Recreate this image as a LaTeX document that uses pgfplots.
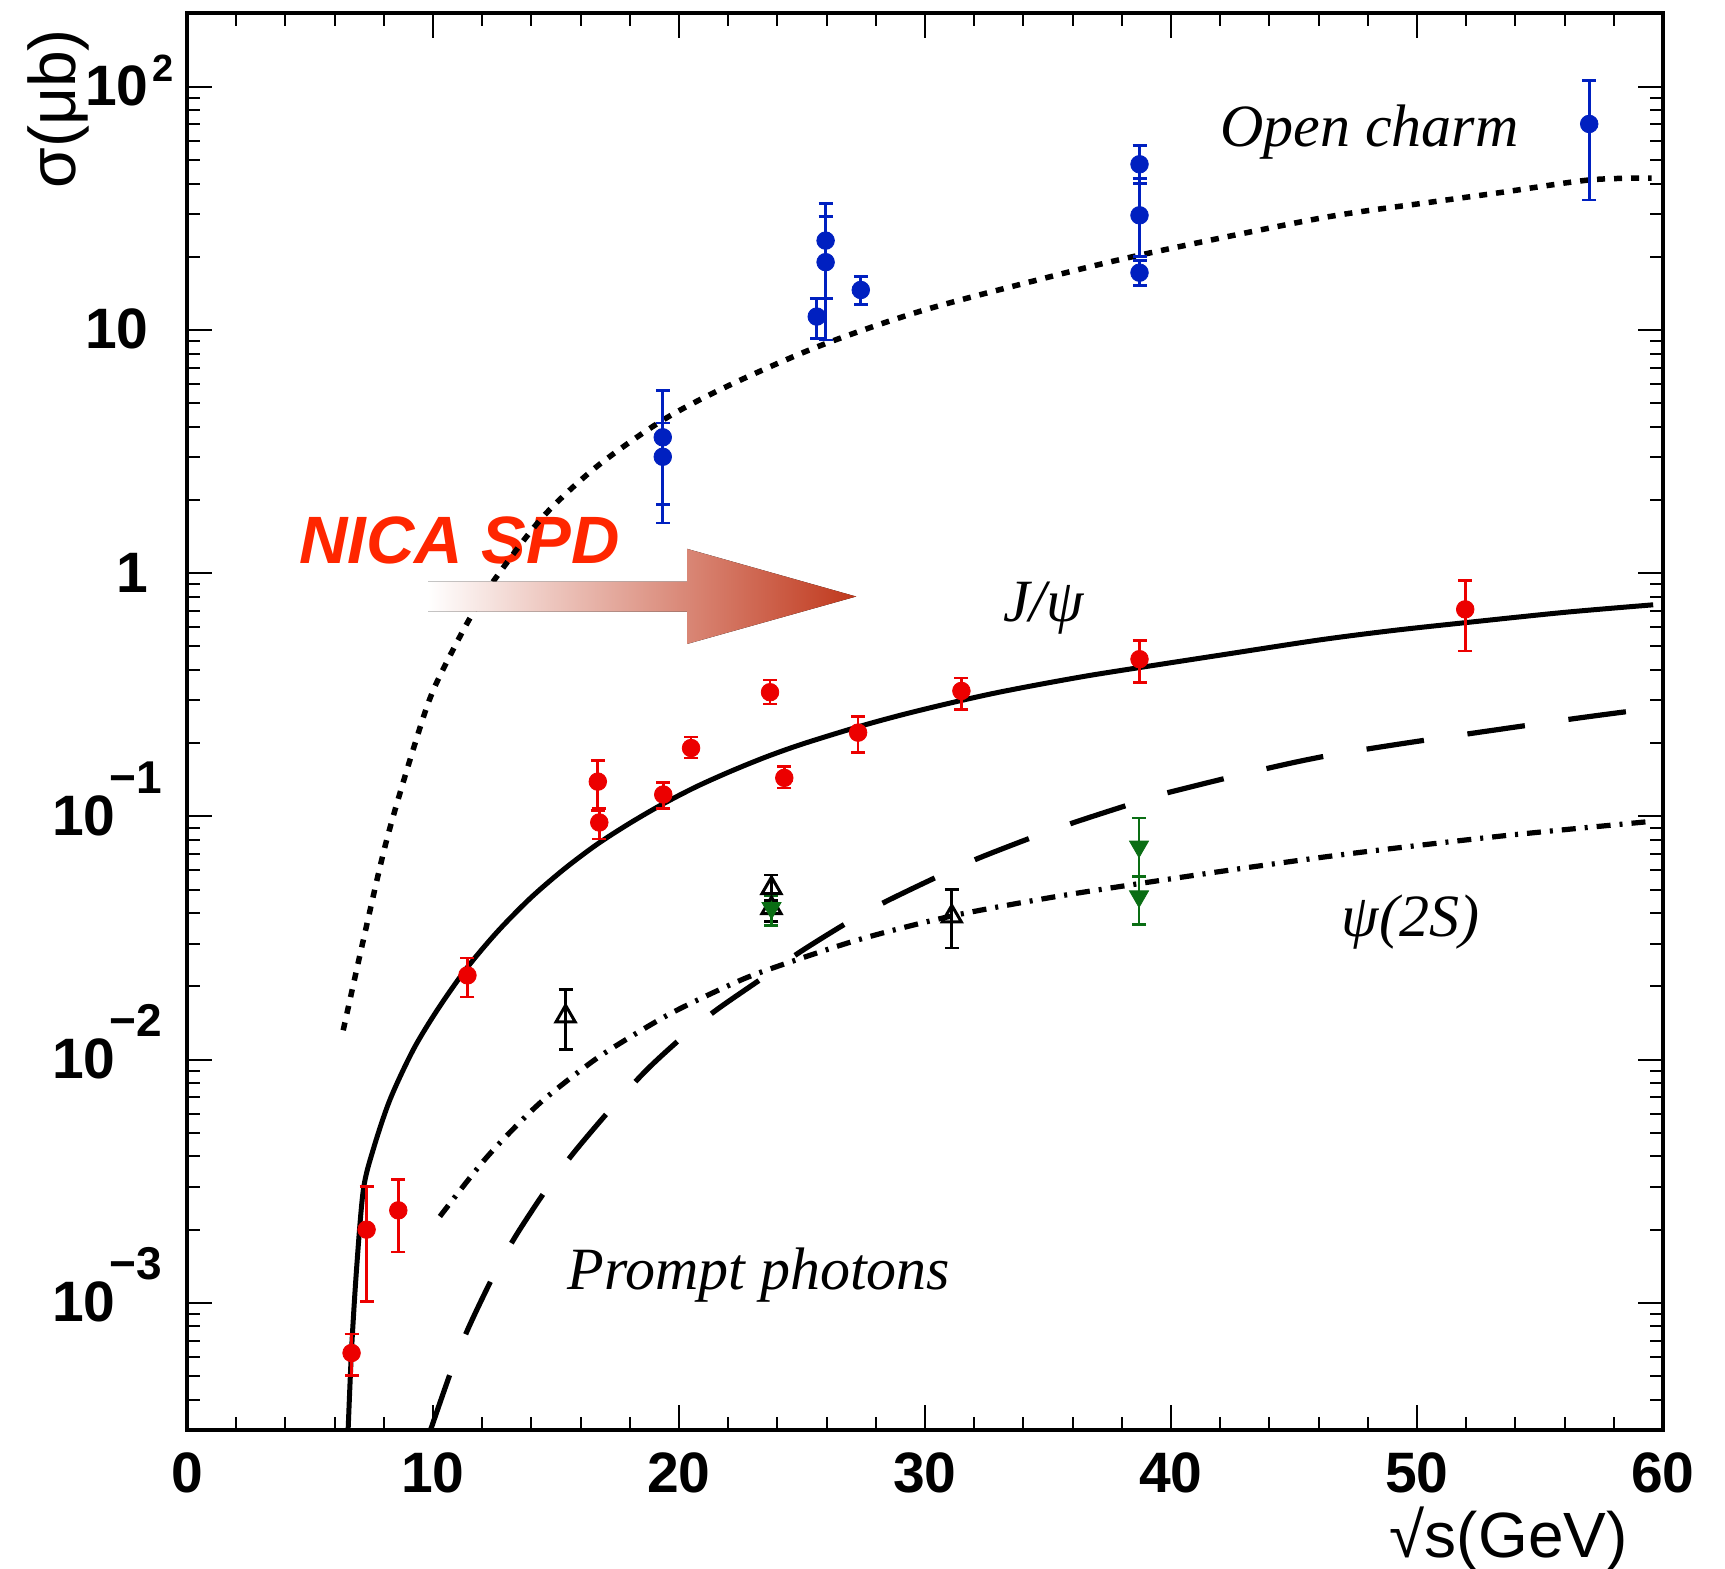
\documentclass[border=0pt]{standalone}
\usepackage{fontspec}
\setmainfont{Liberation Serif}
\newfontfamily\lsans{Liberation Sans}
\usepackage{pgfplots}
\pgfplotsset{compat=1.18}

\definecolor{jred}{RGB}{236,0,0}
\definecolor{cblue}{RGB}{0,32,192}
\definecolor{pgreen}{RGB}{10,110,20}
\definecolor{nicared}{RGB}{255,38,0}
\definecolor{arrowred}{RGB}{192,56,28}

\newcommand\tickfont{\lsans\bfseries\fontsize{28.5}{30}\selectfont}
\newcommand\supfont{\fontsize{23}{23}\selectfont}
\newcommand\negexp[1]{10\makebox[16.5pt][l]{\kern-3pt\raisebox{21pt}{\supfont\char"2212\relax#1}}}
\newcommand\labfont{\itshape\fontsize{30}{30}\selectfont}

\begin{document}
\begin{tikzpicture}
\begin{axis}[
  name=ax,
  scale only axis,
  width=738pt, height=708.5pt,
  xmin=0, xmax=60,
  ymode=log, ymin=3e-4, ymax=201,
  xtick={0,10,...,60},
  xticklabels={0,10,20,30,40,50,60},
  minor x tick num=4,
  ytick={1e-3,1e-2,1e-1,1,10,100},
  yticklabels={\negexp{3},\negexp{2},\negexp{1},1,10,{10\rlap{\kern2pt\raisebox{12pt}{\fontsize{19}{19}\selectfont 2}}}},
  minor ytick={3e-4,4e-4,5e-4,6e-4,7e-4,8e-4,9e-4,
    2e-3,3e-3,4e-3,5e-3,6e-3,7e-3,8e-3,9e-3,
    0.02,0.03,0.04,0.05,0.06,0.07,0.08,0.09,
    0.2,0.3,0.4,0.5,0.6,0.7,0.8,0.9,
    2,3,4,5,6,7,8,9,20,30,40,50,60,70,80,90,200},
  axis line style={line width=2pt},
  tick style={line width=1pt, black},
  major tick length=12.5pt,
  minor tick length=6.5pt,
  xticklabel style={font=\tickfont, anchor=base, inner sep=0pt, yshift=-31.3pt},
  yticklabel style={font=\tickfont, anchor=base east, inner sep=0pt, xshift=-19pt, yshift=-9.5pt},
  error bars/error bar style={line width=1.35pt},
  error bars/error mark options={rotate=90, line width=1.35pt, mark size=3.5pt},
]

\node[anchor=base west, inner sep=0pt, text=nicared,
  font=\lsans\bfseries\itshape\fontsize{33.5}{33.5}\selectfont] at (axis cs:4.55,1.10) {NICA SPD};

% open charm (dotted)
\addplot[black, line width=2.75pt, dash pattern=on 4pt off 4.5pt, smooth] coordinates {
  (6.35,0.0132) (7.17,0.0311) (8.12,0.0802) (9.27,0.1995) (10.06,0.339)
  (11.50,0.653) (12.59,0.968) (14.48,1.71) (16.65,2.74) (19.36,4.27)
  (22.07,5.94) (25.73,8.61) (29.76,11.9) (34.2,15.7) (38.72,20.3)
  (46.06,28.8) (50.53,33.5) (53.37,36.7) (57.03,41.4) (59.54,42.1)};

% J/psi (solid)
\addplot[black, line width=2.5pt, smooth] coordinates {
  (6.55,3.0e-4) (6.69,6.43e-4) (6.90,1.41e-3) (7.17,2.92e-3) (7.57,4.27e-3)
  (8.25,6.84e-3) (9.20,0.01099) (10.2,0.01614) (11.37,0.02377) (12.6,0.03342)
  (13.94,0.04592) (15.3,0.06039) (16.65,0.07656) (18.0,0.09376) (19.36,0.1127)
  (20.7,0.1324) (22.07,0.1528) (23.5,0.1750) (25.0,0.1982) (27.24,0.2328)
  (29.0,0.2606) (30.85,0.2897) (32.7,0.3192) (34.51,0.3467) (36.6,0.3784)
  (38.66,0.4083) (42.0,0.4603) (46.0,0.5309) (49.0,0.5808) (52.0,0.6266)
  (56.0,0.6902) (59.6,0.7413)};

% prompt photons (dashed)
\addplot[black, line width=2.6pt, dash pattern=on 29pt off 22pt, smooth] coordinates {
  (9.9,3.0e-4) (10.83,5.57e-4) (11.50,8.13e-4) (12.52,1.33e-3) (13.40,1.91e-3)
  (14.69,3.01e-3) (15.77,4.20e-3) (17.26,6.32e-3) (18.69,9.08e-3) (20.17,0.01245)
  (21.53,0.01603) (23.41,0.0217) (24.88,0.02754) (26.87,0.03673) (28.41,0.04467)
  (30.61,0.05715) (32.15,0.06714) (34.39,0.08222) (36.06,0.09441) (38.29,0.1117)
  (39.96,0.1259) (46.28,0.1770) (55.0,0.2410) (58.58,0.270)};

% psi(2S) (dash-dot)
\addplot[black, line width=2.6pt, dash pattern=on 7pt off 4.5pt on 1.5pt off 4.5pt, smooth] coordinates {
  (10.28,2.265e-3) (12.18,3.963e-3) (14.22,6.457e-3) (16.1,9.20e-3) (17.33,0.01122)
  (19.63,0.01542) (22.07,0.02028) (23.62,0.02344) (27.3,0.03112) (31.06,0.03890)
  (35.08,0.04634) (38.66,0.05284) (43.0,0.06138) (47.52,0.07079) (53.5,0.08318)
  (59.47,0.09528)};

% NICA SPD arrow
\fill[left color=white, right color=arrowred]
  (axis cs:9.80,0.9236) -- (axis cs:20.33,0.9236) -- (axis cs:20.33,1.259)
  -- (axis cs:27.2,0.8017) -- (axis cs:20.33,0.5117) -- (axis cs:20.33,0.695)
  -- (axis cs:9.80,0.695) -- cycle;

% J/psi data
\addplot[only marks, mark=*, mark size=4.4pt, color=jred,
  error bars/.cd, y dir=both, y explicit] coordinates {
  (6.69,6.22e-4) += (0,1.23e-4) -= (0,1.20e-4)
  (7.30,2.00e-3) += (0,1.01e-3) -= (0,0.99e-3)
  (8.59,2.40e-3) += (0,0.81e-3) -= (0,0.78e-3)
  (11.40,0.0222) += (0,0.0040) -= (0,0.0041)
  (16.70,0.139) += (0,0.031) -= (0,0.033)
  (16.76,0.0944) += (0,0.0136) -= (0,0.0137)
  (19.36,0.123) += (0,0.015) -= (0,0.015)
  (20.49,0.191) += (0,0.021) -= (0,0.017)
  (23.70,0.324) += (0,0.040) -= (0,0.034)
  (24.28,0.144) += (0,0.016) -= (0,0.013)
  (27.28,0.221) += (0,0.037) -= (0,0.038)
  (31.48,0.328) += (0,0.043) -= (0,0.053)
  (38.72,0.443) += (0,0.087) -= (0,0.087)
  (51.96,0.710) += (0,0.22) -= (0,0.232)};

% open charm data
\addplot[only marks, mark=*, mark size=4.4pt, color=cblue,
  error bars/.cd, y dir=both, y explicit] coordinates {
  (19.34,3.62) += (0,2.02) -= (0,1.71)
  (19.34,3.01) += (0,1.13) -= (0,1.40)
  (25.60,11.35) += (0,2.15) -= (0,2.10)
  (25.96,23.3) += (0,9.9) -= (0,9.8)
  (25.96,19.0) += (0,10.3) -= (0,9.9)
  (27.39,14.6) += (0,2.0) -= (0,1.9)
  (38.72,48.0) += (0,9.5) -= (0,8.0)
  (38.72,29.6) += (0,12.4) -= (0,9.6)
  (38.72,17.2) += (0,2.1) -= (0,2.0)
  (57.0,70.3) += (0,35.7) -= (0,36.1)};

% psi(2S) data, open triangles
\addplot[only marks, mark=triangle, mark size=5.5pt, color=black, mark options={line width=1.5pt},
  error bars/.cd, y dir=both, y explicit] coordinates {
  (15.39,0.01507) += (0,0.0044) -= (0,0.0041)
  (23.76,0.0507) += (0,0.0068) -= (0,0.0057)
  (23.76,0.042) += (0,0.005) -= (0,0.005)
  (31.09,0.0388) += (0,0.0111) -= (0,0.0100)};

% psi(2S) data, filled down triangles
\addplot[only marks, mark=triangle*, mark size=5.5pt, color=pgreen, mark options={rotate=180},
  error bars/.cd, y dir=both, y explicit] coordinates {
  (23.76,0.042) += (0,0.005) -= (0,0.0065)
  (38.70,0.0752) += (0,0.0232) -= (0,0.0186)
  (38.70,0.0469) += (0,0.0097) -= (0,0.011)};

\node[anchor=base, inner sep=0pt, font=\labfont] at (axis cs:48.07,56.9) {Open charm};
\node[anchor=base, inner sep=0pt, font=\labfont] at (axis cs:34.82,0.632) {J/ψ};
\node[anchor=base, inner sep=0pt, font=\labfont] at (axis cs:49.74,0.032) {ψ(2S)};
\node[anchor=base, inner sep=0pt, font=\labfont] at (axis cs:23.25,1.13e-3) {Prompt photons};
\end{axis}

\node[rotate=90, anchor=base west, inner sep=0pt, font=\lsans\fontsize{33}{33}\selectfont]
  at ([shift={(-56pt,-88pt)}]ax.north west) {σ(μb)};
\node[anchor=base east, inner sep=0pt, font=\lsans\fontsize{32}{32}\selectfont]
  at ([shift={(-17.5pt,-63.5pt)}]ax.south east) {√s(GeV)};

\pgfresetboundingbox
\useasboundingbox ([shift={(-93.5pt,-69.5pt)}]ax.south west) rectangle ([shift={(31pt,6.5pt)}]ax.north east);
\end{tikzpicture}
\end{document}
